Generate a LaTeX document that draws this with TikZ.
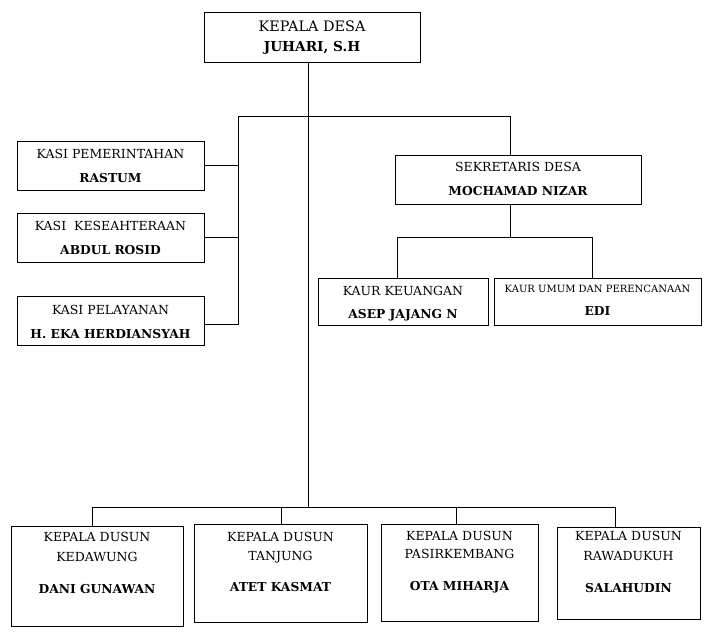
\documentclass[tikz,border=0pt]{standalone}
\usepackage{fontspec}
\setmainfont{DejaVu Serif}
\begin{document}
\begin{tikzpicture}[x=1pt,y=-1pt,
  box/.style={draw,line width=0.9pt,inner sep=0pt},
  ln/.style={line width=0.9pt},
  t/.style={inner sep=0pt,anchor=base,font=\fontsize{12.5}{14}\selectfont},
  tb/.style={inner sep=0pt,anchor=base,font=\fontsize{12.3}{14}\selectfont\bfseries},
  tt/.style={inner sep=0pt,anchor=base,font=\fontsize{14.4}{16}\selectfont},
  ttb/.style={inner sep=0pt,anchor=base,font=\fontsize{13.7}{15}\selectfont\bfseries},
  ts/.style={inner sep=0pt,anchor=base,font=\fontsize{10}{12}\selectfont}]
\useasboundingbox (0,0) rectangle (710,635);
% boxes
\node[box,minimum width=216pt,minimum height=50pt] (kd) at (312,37) {};
\node[box,minimum width=187pt,minimum height=49pt] (k1) at (110.5,165.5) {};
\node[box,minimum width=187pt,minimum height=49pt] (k2) at (110.5,237.5) {};
\node[box,minimum width=187pt,minimum height=49pt] (k3) at (110.5,320.5) {};
\node[box,minimum width=246pt,minimum height=49pt] (sd) at (518,179.5) {};
\node[box,minimum width=170pt,minimum height=47pt] (ku1) at (403,301.5) {};
\node[box,minimum width=207pt,minimum height=47pt] (ku2) at (597.5,301.5) {};
\node[box,minimum width=172pt,minimum height=100pt] (b1) at (97,576) {};
\node[box,minimum width=173pt,minimum height=98pt] (b2) at (280.5,573) {};
\node[box,minimum width=157pt,minimum height=97pt] (b3) at (459.5,572.5) {};
\node[box,minimum width=143pt,minimum height=92pt] (b4) at (628.5,573) {};
% texts
\node[tt] (kdt1) at (312,31) {KEPALA DESA};
\node[ttb] (kdt2) at (312,51) {JUHARI, S.H};
\node[t] (k1t1) at (110.5,158.5) {KASI PEMERINTAHAN};
\node[tb] (k1t2) at (110.5,182.5) {RASTUM};
\node[t] (k2t1) at (110.5,230.5) {KASI\ \ KESEAHTERAAN};
\node[tb] (k2t2) at (110.5,254.5) {ABDUL ROSID};
\node[t] (k3t1) at (110.5,314.5) {KASI PELAYANAN};
\node[tb] (k3t2) at (110.5,338.5) {H. EKA HERDIANSYAH};
\node[t] (sdt1) at (518,171.5) {SEKRETARIS DESA};
\node[tb] (sdt2) at (518,195.5) {MOCHAMAD NIZAR};
\node[t] (ku1t1) at (403,295.5) {KAUR KEUANGAN};
\node[tb] (ku1t2) at (403,318.5) {ASEP JAJANG N};
\node[ts] (ku2t1) at (597.5,292.5) {KAUR UMUM DAN PERENCANAAN};
\node[tb] (ku2t2) at (597.5,315.5) {EDI};
\node[t] (b1t1) at (97,541.5) {KEPALA DUSUN};
\node[t] (b1t2) at (97,561.5) {KEDAWUNG};
\node[tb] (b1t3) at (97,593.5) {DANI GUNAWAN};
\node[t] (b2t1) at (280.5,541.5) {KEPALA DUSUN};
\node[t] (b2t2) at (280.5,560.5) {TANJUNG};
\node[tb] (b2t3) at (280.5,591.5) {ATET KASMAT};
\node[t] (b3t1) at (459.5,540.5) {KEPALA DUSUN};
\node[t] (b3t2) at (459.5,558.5) {PASIRKEMBANG};
\node[tb] (b3t3) at (459.5,590.5) {OTA MIHARJA};
\node[t] (b4t1) at (628.5,540.5) {KEPALA DUSUN};
\node[t] (b4t2) at (628.5,560.5) {RAWADUKUH};
\node[tb] (b4t3) at (628.5,592.5) {SALAHUDIN};
% junction coordinates
\coordinate (top) at (308,62);
\coordinate (hl) at (238,116);
\coordinate (hr) at (510,116);
\coordinate (vl) at (238,324);
\coordinate (sj) at (510,237);
\coordinate (sl) at (397,237);
\coordinate (sr) at (592,237);
\coordinate (bj) at (308,507);
\coordinate (bl) at (92,507);
\coordinate (br) at (615,507);
\coordinate (bm1) at (281,507);
\coordinate (bm2) at (456,507);
% connectors
\draw[ln] (top) -- (bj);
\draw[ln] (hl) -- (hr) -- (hr |- sd.north);
\draw[ln] (hl) -- (vl) -- (vl -| k3.east);
\draw[ln] (k1.east) -- (k1.east -| hl);
\draw[ln] (k2.east) -- (k2.east -| hl);
\draw[ln] (hr |- sd.south) -- (sj);
\draw[ln] (sl |- ku1.north) -- (sl) -- (sr) -- (sr |- ku2.north);
\draw[ln] (bl |- b1.north) -- (bl) -- (br) -- (br |- b4.north);
\draw[ln] (bm1) -- (bm1 |- b2.north);
\draw[ln] (bm2) -- (bm2 |- b3.north);
\end{tikzpicture}
\end{document}
